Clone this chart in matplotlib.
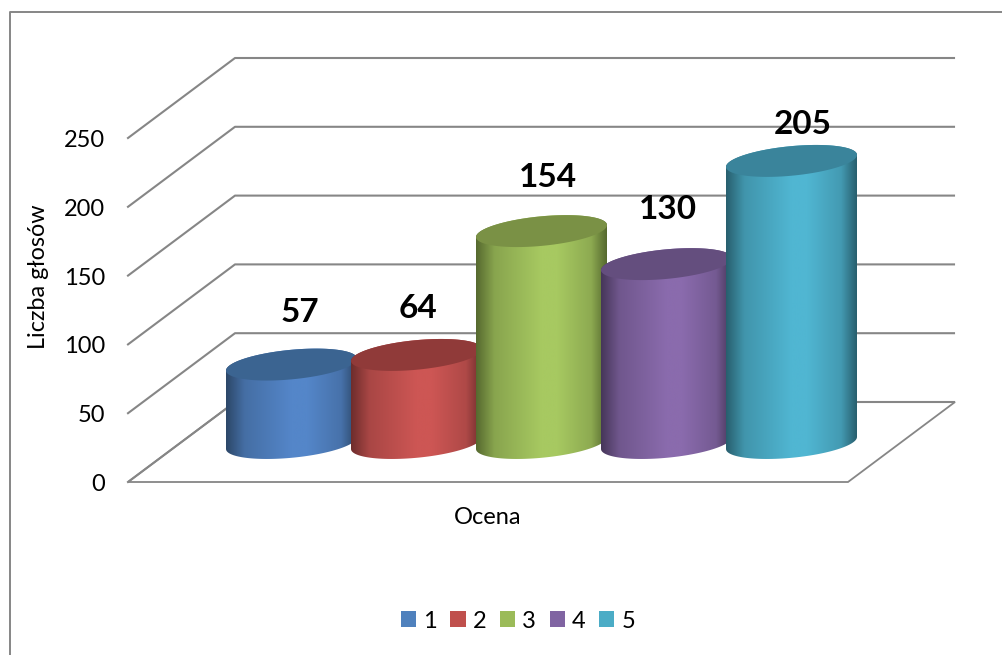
import numpy as np
import matplotlib
matplotlib.use('Agg')
import matplotlib.pyplot as plt
from matplotlib.colors import LinearSegmentedColormap, to_rgb
from matplotlib.patches import Patch, PathPatch, Polygon
from matplotlib.path import Path

plt.rcParams['font.family'] = ['Lato', 'DejaVu Sans']

categories = ['1', '2', '3', '4', '5']
values = [57, 64, 154, 130, 205]
y_ticks = [0, 50, 100, 150, 200, 250]
legend_colors = ['#4f81bd', '#c0504d', '#9bbb59', '#8064a2', '#4bacc6']
edge_colors = ['#2c4768', '#6e2d2c', '#56692f', '#463659', '#285f6e']
mid_colors = ['#5486c9', '#cd5654', '#a7c961', '#8a6bad', '#50b6d2']
top_colors = ['#3b6491', '#903a39', '#7a9145', '#644e7e', '#3a849b']

W, H = 1003, 655
PX_PER_VALUE = 1.376   # pixels per vote on the front axis
PX_PER_CAT = 125.0
ZERO_X, ZERO_Y = 291.5, 443.0  # pixel position of bar 1 base centre
floor_y = 482.0

fig = plt.figure(figsize=(W / 100, H / 100), dpi=100)
ax = fig.add_axes([0, 0, 1, 1])
ax.axis('off')

# data units: x = bar number, y = votes, lined up with the pixel grid
xlim = (1 - ZERO_X / PX_PER_CAT, 1 + (W - ZERO_X) / PX_PER_CAT)
ylim = ((floor_y - H) / PX_PER_VALUE, floor_y / PX_PER_VALUE)


def px(x):
    return 1 + (x - ZERO_X) / PX_PER_CAT


def py(y):
    return (floor_y - y) / PX_PER_VALUE


def mix(a, b, f):
    return tuple(np.array(to_rgb(a)) * (1 - f) + np.array(to_rgb(b)) * f)


grid_col = '#868686'
# outer frame
ax.plot([px(10), px(10), px(1003)], [py(655), py(12), py(12)], color=grid_col, lw=1.4)

# floor
ax.add_patch(Polygon([(px(128), py(482)), (px(848), py(482)), (px(955), py(402)), (px(235), py(402))],
                     closed=True, fill=False, ec=grid_col, lw=1.3, joinstyle='miter'))
# side and back wall lines
for t in y_ticks:
    ax.plot([px(128), px(235), px(954)],
            [t, t + 80 / PX_PER_VALUE, t + 80 / PX_PER_VALUE], color=grid_col, lw=1.5)
    ax.text(px(105), t - 2.5 / PX_PER_VALUE, str(t), ha='right', va='center', fontsize=17, color='black')

# cylinders, left to right so the later ones cover the earlier ones
half_w = 65.5 / PX_PER_CAT
minor = 14.8 / PX_PER_VALUE
tilt = 6.0 / PX_PER_VALUE
base = (floor_y - ZERO_Y) / PX_PER_VALUE
t = np.linspace(0, 2 * np.pi, 121)
arc = np.linspace(np.pi, 2 * np.pi, 60)
xs = np.arange(1, len(values) + 1)

for i, (x, v) in enumerate(zip(xs, values)):
    top_y = base + v
    # body outline: lower arc of the base, then upper arc of the top
    ax_x = x + half_w * np.cos(arc)
    low_y = base + minor * np.sin(arc) + tilt * np.cos(arc)
    up_y = top_y - minor * np.sin(arc) + tilt * np.cos(arc)
    verts = np.c_[np.r_[ax_x, ax_x[::-1]], np.r_[low_y, up_y[::-1]]]
    body = PathPatch(Path(verts), fc='none', ec='none', zorder=3 + i)
    ax.add_patch(body)
    cmap = LinearSegmentedColormap.from_list('c', [
        (0, edge_colors[i]),
        (0.14, mix(edge_colors[i], mid_colors[i], 0.62)),
        (0.50, mid_colors[i]),
        (0.62, mid_colors[i]),
        (0.88, mix(edge_colors[i], mid_colors[i], 0.68)),
        (1, edge_colors[i])])
    grad = np.linspace(0, 1, 256).reshape(1, -1)
    im = ax.imshow(grad, cmap=cmap, aspect='auto', zorder=3 + i,
                   extent=(x - half_w, x + half_w, base - minor * 2, top_y + minor * 2))
    im.set_clip_path(body)
    ax.add_patch(Polygon(np.c_[x + half_w * np.cos(t), top_y + minor * np.sin(t) + tilt * np.cos(t)],
                         closed=True, fc=top_colors[i], ec='none', zorder=3 + i))

# label nudges in pixels, the chart places these by hand
label_offsets = [(8, 3), (2, 9), (6, 1), (1, 0), (11, 19)]
for x, v, (dx, dy) in zip(xs, values, label_offsets):
    ax.text(x + dx / PX_PER_CAT, base + v + 40 - dy / PX_PER_VALUE, str(v), ha='center', va='center',
            fontsize=24, fontweight='bold', color='black', zorder=20)

ax.text(px(39), py(277), 'Liczba głosów', rotation=90, ha='center', va='center', fontsize=16.8)
ax.text(px(488), py(517), 'Ocena', ha='center', va='center', fontsize=17)

handles = [Patch(fc=c, ec='none') for c in legend_colors]
ax.legend(handles, categories, ncol=5, loc='center', bbox_to_anchor=(518 / W, 1 - 621 / H),
          frameon=False, fontsize=17, handlelength=0.64, handleheight=0.64,
          handletextpad=0.3, columnspacing=0.58, borderpad=0)

ax.set_xlim(xlim)
ax.set_ylim(ylim)
fig.savefig('out.png', dpi=100, facecolor='white')
